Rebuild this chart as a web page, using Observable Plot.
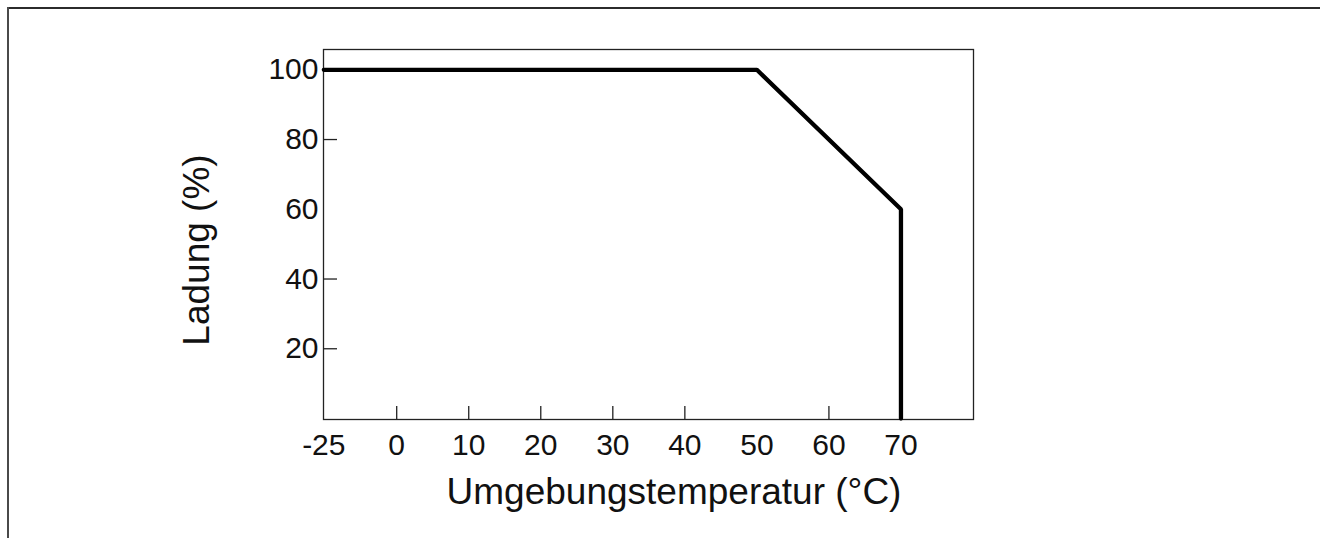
<!DOCTYPE html>
<html><head><meta charset="utf-8">
<script src="https://cdn.jsdelivr.net/npm/d3@7"></script>
<script src="https://cdn.jsdelivr.net/npm/@observablehq/plot@0.6"></script>
<style>
html,body{margin:0;padding:0;background:#fff;overflow:hidden}
#wrap{position:relative;width:1320px;height:538px;overflow:hidden}
#chart svg{display:block}
#btop{position:absolute;left:7px;top:7px;width:1313px;height:2px;background:#2b2b2b;pointer-events:none}
#bleft{position:absolute;left:7px;top:7px;width:2px;height:531px;background:#4a4a4a;pointer-events:none}
</style></head><body><div id="wrap"><div id="chart"></div><div id="btop"></div><div id="bleft"></div></div>
<script>
// Data
const temperature = [-25, 50, 70, 70];
const load = [100, 100, 60, 0];
const xTickLabels = [-25, 0, 10, 20, 30, 40, 50, 60, 70];
const xTickMarks = [0, 10, 20, 30, 40, 60];
const yTickLabels = [20, 40, 60, 80, 100];
const yTickMarks = [20, 40, 80, 100];
const xTitle = "Umgebungstemperatur (°C)";
const yTitle = "Ladung (%)";

const points = temperature.map((t, i) => ({t, l: load[i]}));

const chart = Plot.plot({
  width: 1320, height: 538,
  marginLeft: 323, marginRight: 347, marginTop: 49, marginBottom: 119,
  style: {fontFamily: '"Liberation Sans", Arial, Helvetica, sans-serif', background: "transparent", color: "#111"},
  x: {type: "linear", domain: [-25, 0, 80], range: [323.3, 396.2, 972.5], label: null},
  y: {domain: [0, 100], range: [418, 69.3], label: null},
  marks: [
    Plot.frame({stroke: "#222", strokeWidth: 1.3}),
    Plot.ruleX(xTickMarks, {x: d => d, insetTop: 357, stroke: "#222", strokeWidth: 1.3}),
    Plot.ruleY(yTickMarks, {y: d => d, insetRight: 636, stroke: "#222", strokeWidth: 1.3}),
    Plot.axisX(xTickLabels, {anchor: "bottom", tickSize: 0, tickPadding: 14, fontSize: 30, tickFormat: d => String(d), label: null, fill: "#111"}),
    Plot.axisY(yTickLabels, {anchor: "left", tickSize: 0, tickPadding: 5, fontSize: 30, tickFormat: d => String(d), label: null, fill: "#111"}),
    Plot.line(points, {x: "t", y: "l", stroke: "#000", strokeWidth: 4.3, strokeLinejoin: "miter"}),
    Plot.text([xTitle], {text: d => d, frameAnchor: "bottom", lineAnchor: "bottom", textAnchor: "middle", dx: 25.5, dy: 84, fontSize: 37, fill: "#111"}),
    Plot.text([yTitle], {text: d => d, frameAnchor: "left", rotate: -90, lineAnchor: "bottom", textAnchor: "middle", dx: -115, dy: 15.5, fontSize: 37, fill: "#111"})
  ]
});
document.getElementById("chart").appendChild(chart);
</script>
</body></html>
